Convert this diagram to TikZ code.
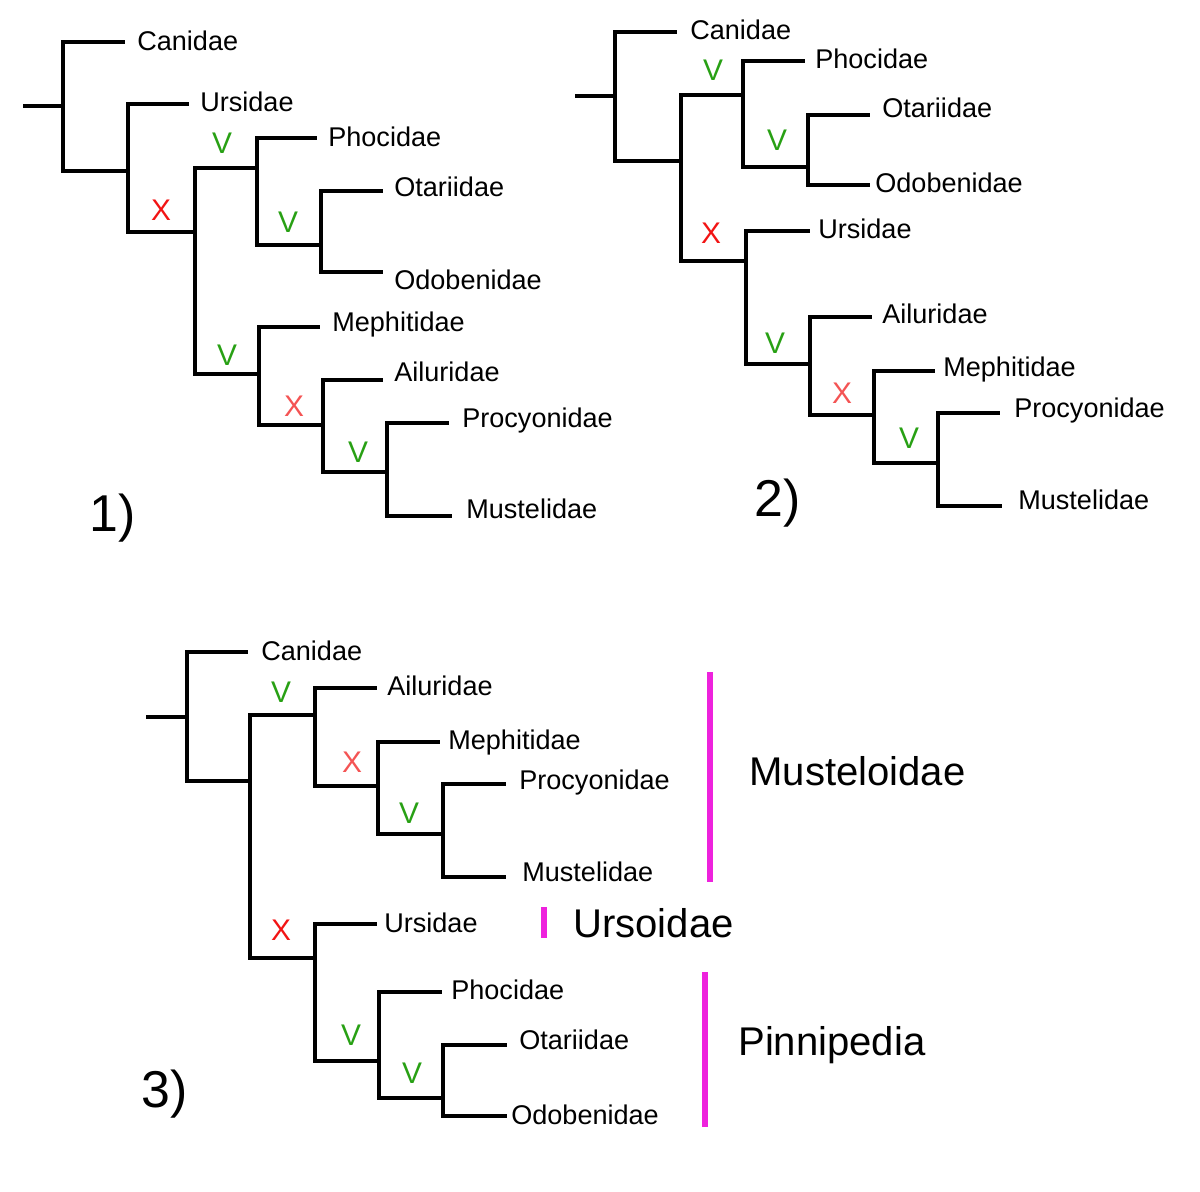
\documentclass[tikz,border=0pt]{standalone}
\usepackage{fontspec}
\setmainfont{Liberation Sans}
\definecolor{keepgreen}{HTML}{28A014}
\definecolor{lossred}{HTML}{F21414}
\definecolor{losspink}{HTML}{F45454}
\definecolor{cladebar}{HTML}{EE22DD}

\begin{document}
\begin{tikzpicture}[
  x={(0.02cm,0cm)},
  y={(0cm,-0.02cm)},
  line join=miter,
  branch/.style={draw=black,line width=2.7pt},
  taxon/.style={anchor=base west,inner sep=0pt,font=\fontsize{15.4}{18}\selectfont},
  keep/.style={text=keepgreen,inner sep=0pt,font=\fontsize{17}{20}\selectfont},
  loss/.style={text=lossred,inner sep=0pt,font=\fontsize{17}{20}\selectfont},
  weakloss/.style={text=losspink,inner sep=0pt,font=\fontsize{17}{20}\selectfont},
  panel/.style={inner sep=0pt,font=\fontsize{29.5}{33}\selectfont},
  bar/.style={draw=cladebar,line width=3pt},
  clade/.style={anchor=base west,inner sep=0pt,font=\fontsize{22.8}{26}\selectfont}
]
  \useasboundingbox (0,0) rectangle (1200,1192);

  % ---------------- Tree 1 ----------------
  \coordinate (t1r) at (23,106);
  \coordinate (t1n1) at (63,106);
  \coordinate (t1n2) at (128,171);
  \coordinate (t1n3) at (195,232);
  \coordinate (t1n4) at (257,168);
  \coordinate (t1n5) at (321,245);
  \coordinate (t1n6) at (259,374);
  \coordinate (t1n7) at (323,425);
  \coordinate (t1n8) at (387,472);
  % tips
  \coordinate (t1can) at (125,42);
  \coordinate (t1urs) at (189,104);
  \coordinate (t1pho) at (317,138);
  \coordinate (t1ota) at (383,191);
  \coordinate (t1odo) at (383,272);
  \coordinate (t1mep) at (320,327);
  \coordinate (t1ail) at (383,380);
  \coordinate (t1pro) at (449,423);
  \coordinate (t1mus) at (452,516);

  \draw[branch] (t1r) -- (t1n1);
  \foreach \a/\b in {n1/can,n1/n2,n2/urs,n2/n3,n3/n4,n3/n6,n4/pho,n4/n5,
                     n5/ota,n5/odo,n6/mep,n6/n7,n7/ail,n7/n8,n8/pro,n8/mus} {
    \draw[branch] (t1\a) |- (t1\b);
  }

  \node[taxon] (t1canl) at (137,51) {Canidae};
  \node[taxon] (t1ursl) at (200,112) {Ursidae};
  \node[taxon] (t1phol) at (328,147) {Phocidae};
  \node[taxon] (t1otal) at (394,197) {Otariidae};
  \node[taxon] (t1odol) at (394,290) {Odobenidae};
  \node[taxon] (t1mepl) at (332,332) {Mephitidae};
  \node[taxon] (t1aill) at (394,382) {Ailuridae};
  \node[taxon] (t1prol) at (462,428) {Procyonidae};
  \node[taxon] (t1musl) at (466,519) {Mustelidae};

  \node[loss] (t1x1) at (161,210) {X};
  \node[keep] (t1v1) at (222,143) {V};
  \node[keep] (t1v2) at (288,222) {V};
  \node[keep] (t1v3) at (227,355) {V};
  \node[weakloss] (t1x2) at (294,406) {X};
  \node[keep] (t1v4) at (358,452) {V};
  \node[panel] (t1num) at (113,518) {1)};

  % ---------------- Tree 2 ----------------
  \coordinate (t2r) at (575,96);
  \coordinate (t2n1) at (615,96);
  \coordinate (t2n2) at (681,161);
  \coordinate (t2n3) at (743,95);
  \coordinate (t2n4) at (808,167);
  \coordinate (t2n5) at (746,261);
  \coordinate (t2n6) at (810,364);
  \coordinate (t2n7) at (874,415);
  \coordinate (t2n8) at (938,463);
  % tips
  \coordinate (t2can) at (677,32);
  \coordinate (t2pho) at (805,61);
  \coordinate (t2ota) at (870,115);
  \coordinate (t2odo) at (870,185);
  \coordinate (t2urs) at (810,231);
  \coordinate (t2ail) at (872,317);
  \coordinate (t2mep) at (935,371);
  \coordinate (t2pro) at (1000,413);
  \coordinate (t2mus) at (1002,506);

  \draw[branch] (t2r) -- (t2n1);
  \foreach \a/\b in {n1/can,n1/n2,n2/n3,n2/n5,n3/pho,n3/n4,n4/ota,n4/odo,
                     n5/urs,n5/n6,n6/ail,n6/n7,n7/mep,n7/n8,n8/pro,n8/mus} {
    \draw[branch] (t2\a) |- (t2\b);
  }

  \node[taxon] (t2canl) at (690,40) {Canidae};
  \node[taxon] (t2phol) at (815,69) {Phocidae};
  \node[taxon] (t2otal) at (882,118) {Otariidae};
  \node[taxon] (t2odol) at (875,193) {Odobenidae};
  \node[taxon] (t2ursl) at (818,239) {Ursidae};
  \node[taxon] (t2aill) at (882,324) {Ailuridae};
  \node[taxon] (t2mepl) at (943,377) {Mephitidae};
  \node[taxon] (t2prol) at (1014,418) {Procyonidae};
  \node[taxon] (t2musl) at (1018,510) {Mustelidae};

  \node[keep] (t2v1) at (713,70) {V};
  \node[keep] (t2v2) at (777,140) {V};
  \node[loss] (t2x1) at (711,233) {X};
  \node[keep] (t2v3) at (775,343) {V};
  \node[weakloss] (t2x2) at (842,393) {X};
  \node[keep] (t2v4) at (909,438) {V};
  \node[panel] (t2num) at (778,503) {2)};

  % ---------------- Tree 3 ----------------
  \coordinate (t3r) at (146,717);
  \coordinate (t3n1) at (187,717);
  \coordinate (t3n2) at (250,781);
  \coordinate (t3n3) at (315,715);
  \coordinate (t3n4) at (378,786);
  \coordinate (t3n5) at (443,834);
  \coordinate (t3n6) at (315,958);
  \coordinate (t3n7) at (379,1061);
  \coordinate (t3n8) at (443,1098);
  % tips
  \coordinate (t3can) at (248,652);
  \coordinate (t3ail) at (377,688);
  \coordinate (t3mep) at (440,742);
  \coordinate (t3pro) at (506,784);
  \coordinate (t3mus) at (506,877);
  \coordinate (t3urs) at (377,924);
  \coordinate (t3pho) at (442,992);
  \coordinate (t3ota) at (507,1045);
  \coordinate (t3odo) at (507,1116);

  \draw[branch] (t3r) -- (t3n1);
  \foreach \a/\b in {n1/can,n1/n2,n2/n3,n2/n6,n3/ail,n3/n4,n4/mep,n4/n5,
                     n5/pro,n5/mus,n6/urs,n6/n7,n7/pho,n7/n8,n8/ota,n8/odo} {
    \draw[branch] (t3\a) |- (t3\b);
  }

  \node[taxon] (t3canl) at (261,660) {Canidae};
  \node[taxon] (t3aill) at (387,695) {Ailuridae};
  \node[taxon] (t3mepl) at (448,749) {Mephitidae};
  \node[taxon] (t3prol) at (519,789) {Procyonidae};
  \node[taxon] (t3musl) at (522,881) {Mustelidae};
  \node[taxon] (t3ursl) at (384,932) {Ursidae};
  \node[taxon] (t3phol) at (451,999) {Phocidae};
  \node[taxon] (t3otal) at (519,1049) {Otariidae};
  \node[taxon] (t3odol) at (511,1124) {Odobenidae};

  \node[keep] (t3v1) at (281,692) {V};
  \node[weakloss] (t3x1) at (352,762) {X};
  \node[keep] (t3v2) at (409,813) {V};
  \node[loss] (t3x2) at (281,930) {X};
  \node[keep] (t3v3) at (351,1035) {V};
  \node[keep] (t3v4) at (412,1073) {V};
  \node[panel] (t3num) at (165,1094) {3)};

  % Clade brackets
  \coordinate (musA) at (710,672);
  \coordinate (musB) at (710,882);
  \coordinate (ursA) at (544,907);
  \coordinate (ursB) at (544,938);
  \coordinate (pinA) at (705,972);
  \coordinate (pinB) at (705,1127);
  \draw[bar] (musA) -- (musB);
  \draw[bar] (ursA) -- (ursB);
  \draw[bar] (pinA) -- (pinB);
  \node[clade] (musl) at (749,785) {Musteloidae};
  \node[clade] (ursl) at (573,937) {Ursoidae};
  \node[clade] (pinl) at (738,1055) {Pinnipedia};
\end{tikzpicture}
\end{document}
